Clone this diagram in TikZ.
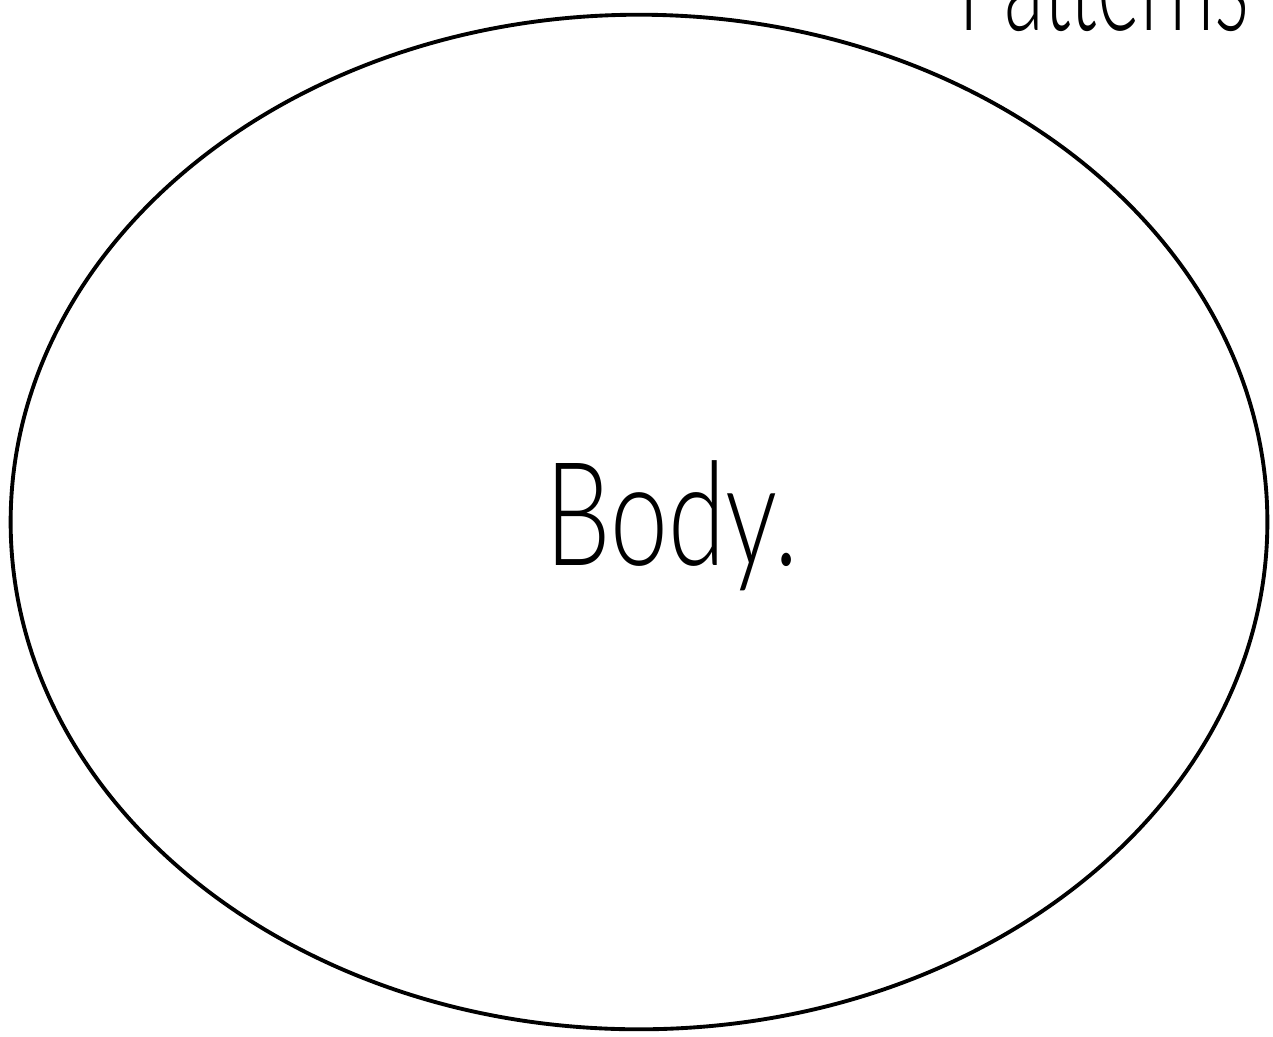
\documentclass[tikz,border=0pt]{standalone}
\usepackage{fontspec}
\newfontfamily\handfont{Lato Light}
\usetikzlibrary{shapes.geometric, positioning}

\begin{document}
\begin{tikzpicture}[x=0.01cm, y=-0.01cm]
            \tikzstyle{outline} = [draw, ellipse, line width=1.1pt, inner sep=0pt, minimum width=12.56cm, minimum height=10.14cm]
            \tikzstyle{hand} = [font=\handfont\fontsize{41}{41}\selectfont, inner sep=0pt]

            \clip (0,0) rectangle (1273,1036);

            \node[outline] (body) at (639,522) {};
            \node[hand, xscale=0.72, anchor=base west] (bodytext) at (545,565) {Body.};
            \node[hand, xscale=0.57, anchor=base east] (patterns) at (1250,30) {Patterns};
        \end{tikzpicture}
\end{document}
